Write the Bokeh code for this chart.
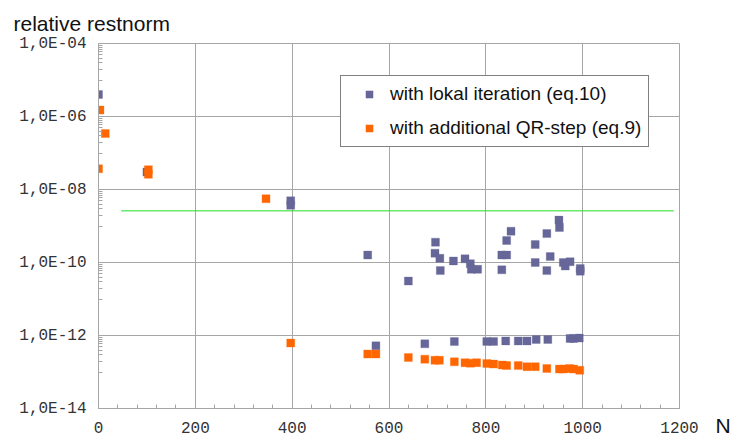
from bokeh.plotting import figure
from bokeh.models import FixedTicker, Legend, LegendItem, LinearAxis, Range1d, LinearScale
from bokeh.embed import file_html
from bokeh.resources import INLINE

# ---- data ----
lokal_n = [0, 100, 397, 397, 556, 573, 640, 674, 695, 696, 705, 706, 733, 735,
           757, 768, 770, 783, 802, 816, 833, 833, 841, 843, 843, 852, 867, 885,
           902, 902, 904, 926, 926, 928, 933, 951, 952, 960, 964, 974, 974, 981,
           993, 995, 995]
lokal_v = [4.0e-6, 3.0e-8, 4.9e-9, 3.7e-9, 1.6e-10, 5.2e-13, 3.1e-11, 5.9e-13,
           1.8e-10, 3.6e-10, 1.3e-10, 6.0e-11, 1.1e-10, 6.8e-13,
           1.26e-10, 9.3e-11, 6.5e-11, 6.5e-11, 6.9e-13, 6.9e-13, 1.6e-10, 6.3e-11,
           7.1e-13, 1.6e-10, 4.0e-10, 7.2e-10, 7.1e-13, 7.1e-13,
           3.1e-10, 1.0e-10, 7.8e-13, 6.2e-10, 6.0e-11, 7.8e-13, 1.45e-10, 1.45e-9,
           9.1e-10, 1.0e-10, 8.0e-11, 1.05e-10, 8.3e-13, 8.3e-13,
           8.5e-13, 6.9e-11, 5.8e-11]

qr_n = [0, 3, 14, 103, 103, 346, 397, 556, 573, 640, 674, 695, 704, 735, 757,
        768, 781, 802, 816, 834, 843, 867, 885, 902, 926, 952, 960, 973, 981, 994]
qr_v = [3.7e-8, 1.5e-6, 3.4e-7, 3.5e-8, 2.6e-8, 5.6e-9, 6.2e-13, 3.1e-13, 3.1e-13,
        2.5e-13, 2.25e-13, 2.1e-13, 2.1e-13, 1.9e-13, 1.8e-13,
        1.75e-13, 1.8e-13, 1.7e-13, 1.65e-13, 1.55e-13, 1.5e-13, 1.5e-13, 1.4e-13,
        1.4e-13, 1.25e-13, 1.2e-13, 1.2e-13, 1.25e-13, 1.2e-13, 1.12e-13]

limit_n = [47, 1188]
limit_v = [2.6e-9, 2.6e-9]

x_ticks = [0, 200, 400, 600, 800, 1000, 1200]
x_minor = [v for v in range(0, 1201, 40) if v % 200 != 0]
y_ticks = [1e-14, 1e-12, 1e-10, 1e-8, 1e-6, 1e-4]
y_labels = ["1,0E-14", "1,0E-12", "1,0E-10", "1,0E-08", "1,0E-06", "1,0E-04"]
y_minor = [k * 10.0 ** e for e in (-13, -11, -9, -7, -5) for k in range(1, 10)]

series_names = ["with lokal iteration (eq.10)", "with additional QR-step (eq.9)"]
series_colors = ["#666699", "#ff6600"]
title_text = "relative restnorm"
x_title = "N"

GRID = "#a6a6a6"

p = figure(width=733, height=440, x_range=(0, 1200), y_range=(1e-14, 1e-4),
           y_axis_type="log", output_backend="svg", toolbar_location=None,
           min_border_left=98, min_border_right=54, min_border_top=42,
           min_border_bottom=32)
p.outline_line_color = GRID
p.background_fill_color = "white"
p.border_fill_color = "white"

p.title.text = title_text
p.title.align = "left"
p.title.offset = -85
p.title.standoff = 18
p.title.text_font = "Liberation Sans"
p.title.text_font_size = "21px"
p.title.text_font_style = "normal"
p.title.text_color = "#111111"

xt = FixedTicker(ticks=x_ticks, minor_ticks=x_minor)
yt = FixedTicker(ticks=y_ticks, minor_ticks=y_minor)
p.xaxis.ticker = xt
p.yaxis.ticker = yt
p.xgrid.ticker = FixedTicker(ticks=x_ticks)
p.ygrid.ticker = FixedTicker(ticks=y_ticks)
p.xgrid.grid_line_color = GRID
p.ygrid.grid_line_color = GRID

p.yaxis.major_label_overrides = {t: l for t, l in zip(y_ticks, y_labels)}

for ax in (p.xaxis, p.yaxis):
    ax.axis_line_color = GRID
    ax.major_tick_line_color = GRID
    ax.minor_tick_line_color = GRID
    ax.major_tick_in = 5
    ax.major_tick_out = 0
    ax.minor_tick_in = 4
    ax.minor_tick_out = 0
    ax.major_label_text_font = "Liberation Mono"
    ax.major_label_text_font_size = "16px"
    ax.major_label_text_color = "#333333"
p.xaxis.major_label_standoff = 13
p.yaxis.major_label_standoff = 12

# "N" axis title, drawn as the single tick label of an extra right-hand axis
p.extra_y_ranges = {"ntitle": Range1d(0, 1)}
p.extra_y_scales = {"ntitle": LinearScale()}
n_axis = LinearAxis(y_range_name="ntitle", ticker=FixedTicker(ticks=[0]),
                    major_label_overrides={0: "\n" + x_title},
                    axis_line_color=None, major_tick_line_color=None,
                    minor_tick_line_color=None, major_tick_in=0, major_tick_out=0,
                    minor_tick_in=0, minor_tick_out=0,
                    major_label_standoff=36,
                    major_label_text_font="Liberation Sans",
                    major_label_text_font_size="21px",
                    major_label_text_line_height=1.5,
                    major_label_text_color="#111111")
p.add_layout(n_axis, "right")

p.line(limit_n, limit_v, line_color="#22dd22", line_width=1)

r1 = p.scatter(lokal_n, lokal_v, marker="square", size=8,
               fill_color=series_colors[0], line_color=series_colors[0], line_alpha=0.3)
r2 = p.scatter(qr_n, qr_v, marker="square", size=8,
               fill_color=series_colors[1], line_color=series_colors[1], line_alpha=0.3)

legend = Legend(items=[LegendItem(label=series_names[0], renderers=[r1]),
                       LegendItem(label=series_names[1], renderers=[r2])],
                location=(242, 261), margin=0, padding=7, spacing=12,
                glyph_width=42, glyph_height=18, label_height=18, label_standoff=-9,
                label_text_font="Liberation Sans", label_text_font_size="19px",
                label_text_color="#111111",
                border_line_color="black", border_line_width=1,
                background_fill_color="white", background_fill_alpha=1.0)
p.add_layout(legend)

open("out.html", "w").write(file_html(p, INLINE))
